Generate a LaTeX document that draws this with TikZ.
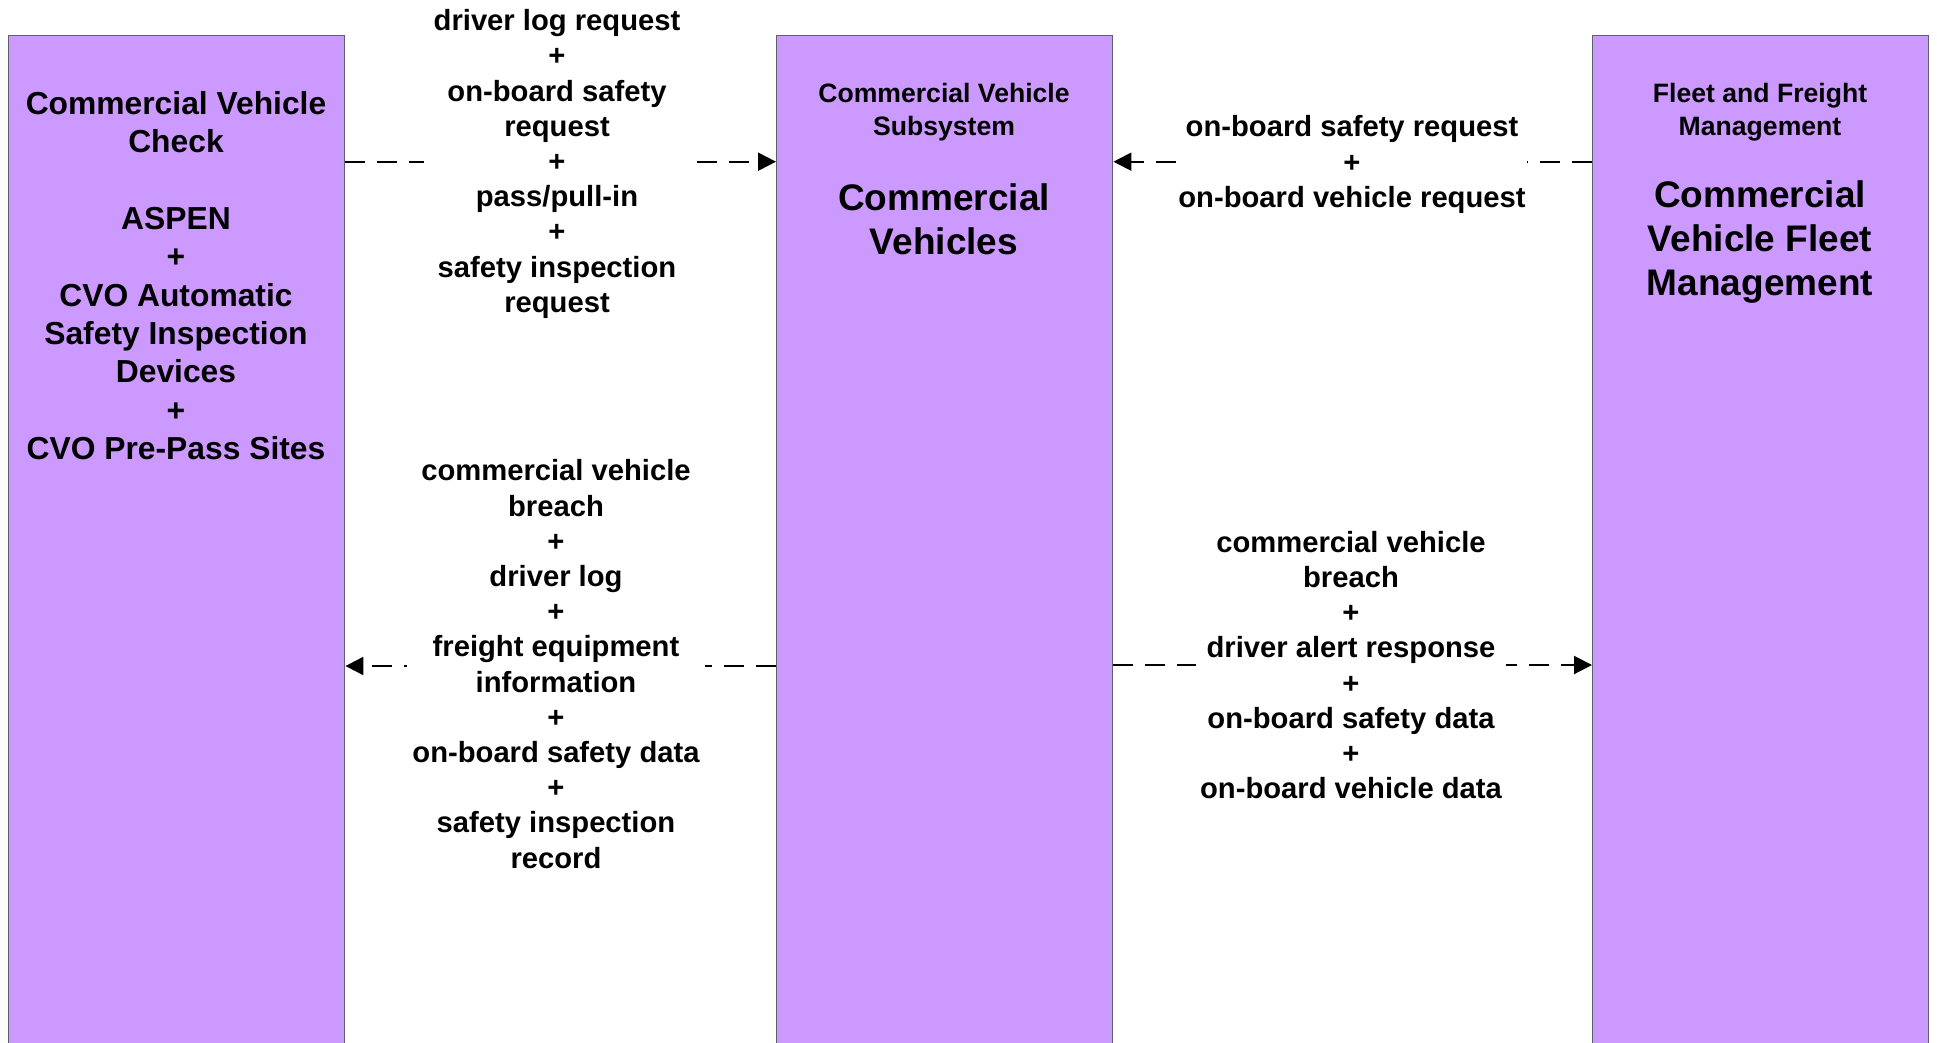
\documentclass[tikz,border=0pt]{standalone}
\usepackage{fontspec}
\setmainfont{Liberation Sans}
\usetikzlibrary{arrows.meta}
\definecolor{boxfill}{HTML}{CC99FF}
\definecolor{boxline}{HTML}{5F5F6F}
\begin{document}
\begin{tikzpicture}[x=0.5pt,y=-0.5pt,
  sysbox/.style={draw=boxline, line width=0.7pt, fill=boxfill, minimum width=168pt, minimum height=515pt, inner sep=0pt, anchor=north west},
  flow/.style={line width=1pt, dash pattern=on 10pt off 6pt, -{Triangle[length=9pt,width=9pt]}},
  flowlabel/.style={fill=white, align=center, inner ysep=1pt, font=\fontsize{14.6pt}{17.6pt}\selectfont\bfseries},
  boxtext/.style={align=center, inner sep=0pt, font=\fontsize{15.9pt}{19.2pt}\selectfont\bfseries},
  subtext/.style={align=center, inner sep=0pt, font=\fontsize{13.3pt}{16.5pt}\selectfont\bfseries},
  bigtext/.style={align=center, inner sep=0pt, font=\fontsize{18.5pt}{22.2pt}\selectfont\bfseries}]
\useasboundingbox (0,0) rectangle (1937,1043);
\clip (0,0) rectangle (1937,1043);
% boxes
\node[sysbox] (cvc) at (8,35) {};
\node[sysbox] (cv) at (776,35) {};
\node[sysbox] (fleet) at (1592,35) {};
% box texts
\node[boxtext] (cvctext) at (176,275.5) {Commercial Vehicle\\Check\\[19.2pt]ASPEN\\+\\CVO Automatic\\Safety Inspection\\Devices\\+\\CVO Pre-Pass Sites};
\node[subtext] (cvsub) at (944,112.5) {Commercial Vehicle\\Subsystem};
\node[bigtext] (cvname) at (944,219) {Commercial\\Vehicles};
\node[subtext] (ffsub) at (1760,112.5) {Fleet and Freight\\Management};
\node[bigtext] (ffname) at (1760,242) {Commercial\\Vehicle Fleet\\Management};
% connector levels
\coordinate (yA) at (0,161.7);
\coordinate (yB) at (0,666);
\coordinate (yC) at (0,665);
% connectors
\draw[flow] (cvc.east |- yA) -- (cv.west |- yA);
\draw[flow] (cv.west |- yB) -- (cvc.east |- yB);
\draw[flow] (fleet.west |- yA) -- (cv.east |- yA);
\draw[flow] (cv.east |- yC) -- (fleet.west |- yC);
% labels
\node[flowlabel, inner xsep=5pt] (lab1) at (557,164) {driver log request\\+\\on-board safety\\request\\+\\pass/pull-in\\+\\safety inspection\\request};
\node[flowlabel, inner xsep=2.5pt] (lab2) at (556,664) {commercial vehicle\\breach\\+\\driver log\\+\\freight equipment\\information\\+\\on-board safety data\\+\\safety inspection\\record};
\node[flowlabel, inner xsep=0.5pt] (lab3) at (1352,164.5) {on-board safety request\\+\\on-board vehicle request};
\node[flowlabel, inner xsep=2pt] (lab4) at (1351,665) {commercial vehicle\\breach\\+\\driver alert response\\+\\on-board safety data\\+\\on-board vehicle data};
\end{tikzpicture}
\end{document}
